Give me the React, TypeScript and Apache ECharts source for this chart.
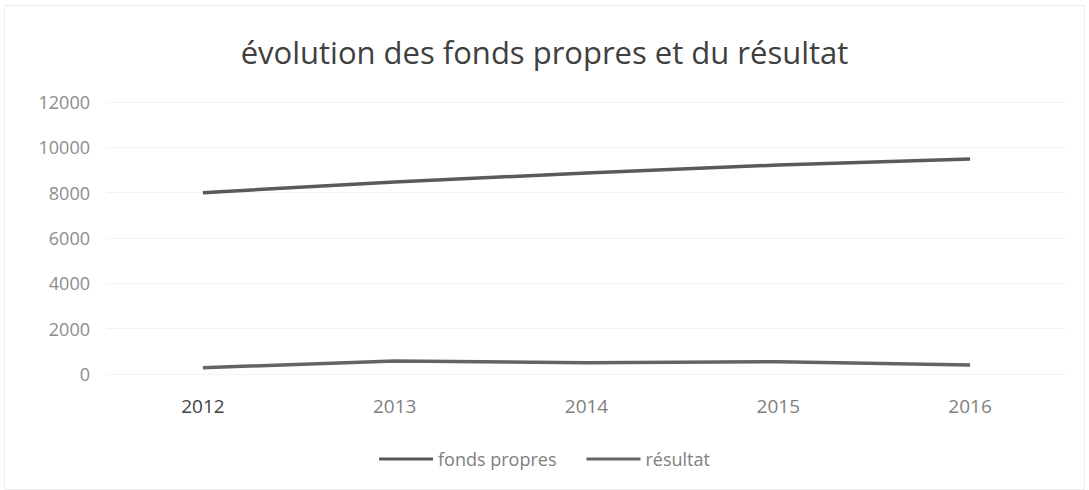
import React, { useEffect, useRef } from "react";
import * as echarts from "echarts";

const years = ["2012", "2013", "2014", "2015", "2016"];
const fondsPropres = [8000, 8470, 8870, 9220, 9480];
const resultat = [280, 570, 500, 545, 400];
const yTicks = { min: 0, max: 12000, interval: 2000 };
const titleText = "évolution des fonds propres et du résultat";

export default function App() {
  const ref = useRef<HTMLDivElement>(null);
  useEffect(() => {
    if (!ref.current) return;
    const chart = echarts.init(ref.current, undefined, { renderer: "svg" });
    const font = "'Open Sans', 'Noto Sans', sans-serif";
    chart.setOption({
      animation: false,
      backgroundColor: "#ffffff",
      title: {
        text: titleText,
        left: "center",
        top: 31,
        textStyle: { fontFamily: font, fontSize: 31, fontWeight: "normal", color: "#404040" },
      },
      grid: { left: 107, right: 23, top: 102, bottom: 116, containLabel: false },
      legend: {
        bottom: 17,
        left: "center",
        itemWidth: 54,
        itemHeight: 3,
        itemGap: 30,
        icon: "rect",
        textStyle: { fontFamily: font, fontSize: 18, color: "#808080" },
        data: ["fonds propres", "résultat"],
      },
      xAxis: {
        type: "category",
        data: years,
        boundaryGap: true,
        axisLine: { show: false },
        axisTick: { show: false },
        axisLabel: {
          fontFamily: font,
          fontSize: 19,
          color: "#7f7f7f",
          margin: 22,
          formatter: (v: string) => (v === "2012" ? "{b|" + v + "}" : v),
          rich: { b: { fontFamily: font, fontSize: 19, color: "#404040" } },
        },
      },
      yAxis: {
        type: "value",
        min: yTicks.min,
        max: yTicks.max,
        interval: yTicks.interval,
        axisLine: { show: false },
        axisTick: { show: false },
        axisLabel: {
          fontFamily: font,
          fontSize: 18,
          color: "#8c8c8c",
          margin: 17,
          formatter: (v: number) => String(v),
        },
        splitLine: { lineStyle: { color: "#f3f3f3", width: 1 } },
      },
      series: [
        {
          name: "fonds propres",
          type: "line",
          data: fondsPropres,
          showSymbol: false,
          symbol: "none",
          lineStyle: { color: "#5a5a5a", width: 3.5 },
          itemStyle: { color: "#5a5a5a" },
        },
        {
          name: "résultat",
          type: "line",
          data: resultat,
          showSymbol: false,
          symbol: "none",
          lineStyle: { color: "#646464", width: 3.5 },
          itemStyle: { color: "#646464" },
        },
      ],
      graphic: [
        {
          type: "rect",
          left: 2,
          top: 3,
          shape: { width: 1080, height: 484 },
          style: { fill: "none", stroke: "#ececec", lineWidth: 1 },
          silent: true,
        },
      ],
    });
    return () => chart.dispose();
  }, []);
  return (
    <div
      ref={ref}
      style={{ position: "fixed", left: 0, top: 0, width: 1089, height: 490 }}
    />
  );
}
